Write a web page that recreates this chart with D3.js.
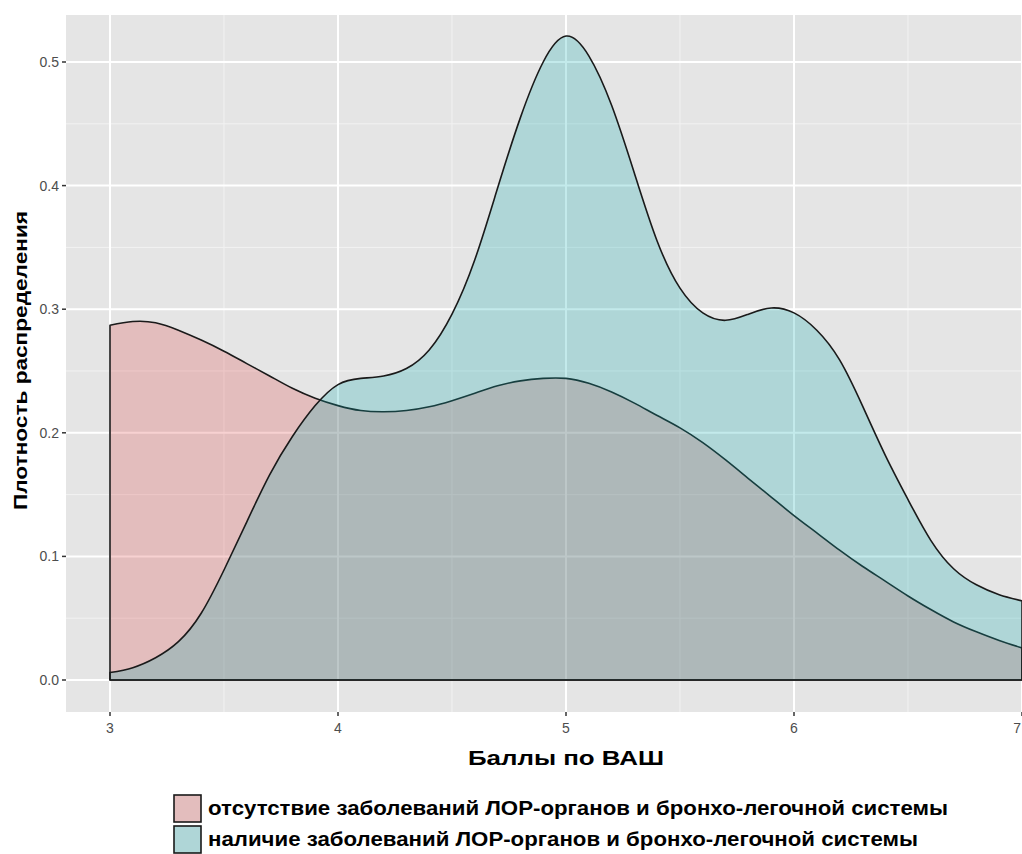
<!DOCTYPE html>
<html>
<head>
<meta charset="utf-8">
<script src="https://cdn.jsdelivr.net/npm/d3@7"></script>
<style>
  body { margin: 0; background: #fff; }
  svg text { font-family: "Liberation Sans", Arial, sans-serif; }
</style>
</head>
<body>
<div id="chart"></div>
<script>
// Density estimates
var xs = [3.0,3.1,3.2,3.3,3.4,3.5,3.6,3.7,3.8,3.9,4.0,4.1,4.2,4.3,4.4,4.5,4.6,4.7,4.8,4.9,5.0,
          5.1,5.2,5.3,5.4,5.5,5.6,5.7,5.8,5.9,6.0,6.1,6.2,6.3,6.4,6.5,6.6,6.7,6.8,6.9,7.0];
var absentDensity = [0.287,0.290,0.289,0.283,0.275,0.266,0.256,0.246,0.236,0.228,0.222,
  0.218,0.217,0.218,0.221,0.226,0.232,0.238,0.242,0.244,0.244,
  0.240,0.233,0.224,0.214,0.204,0.192,0.178,0.163,0.148,0.133,
  0.119,0.105,0.092,0.080,0.068,0.057,0.047,0.039,0.032,0.026];
var presentDensity = [0.006,0.010,0.018,0.031,0.054,0.089,0.128,0.166,0.197,0.222,0.239,
  0.244,0.246,0.252,0.267,0.296,0.340,0.398,0.455,0.500,0.521,
  0.505,0.465,0.410,0.355,0.317,0.297,0.291,0.296,0.301,0.297,
  0.283,0.259,0.222,0.182,0.146,0.113,0.090,0.077,0.069,0.064];
var xTicks = [3,4,5,6,7];
var yTicks = [0,0.1,0.2,0.3,0.4,0.5];
var groupNames = ["отсутствие заболеваний ЛОР-органов и бронхо-легочной системы",
                  "наличие заболеваний ЛОР-органов и бронхо-легочной системы"];
var groupColors = ["#e14949","#11adb1"];

var W = 1022, H = 854;
var panel = {left:66, top:15, right:1022, bottom:712};

var svg = d3.select("#chart").append("svg")
  .attr("width", W).attr("height", H);

var x = d3.scaleLinear().domain([3,7]).range([110,1022]);
var y = d3.scaleLinear().domain([0,0.5]).range([680,62]);

// panel background
svg.append("rect")
  .attr("x", panel.left).attr("y", panel.top)
  .attr("width", panel.right-panel.left).attr("height", panel.bottom-panel.top)
  .attr("fill", "#e5e5e5");

svg.append("clipPath").attr("id","clip")
  .append("rect")
  .attr("x", panel.left).attr("y", panel.top)
  .attr("width", panel.right-panel.left).attr("height", panel.bottom-panel.top);

var g = svg.append("g").attr("clip-path","url(#clip)");

// minor grid
var xMinor = [2.5,3.5,4.5,5.5,6.5];
var yMinor = [-0.05,0.05,0.15,0.25,0.35,0.45];
g.selectAll(".xminor").data(xMinor).enter().append("line")
  .attr("x1", d => x(d)).attr("x2", d => x(d))
  .attr("y1", panel.top).attr("y2", panel.bottom)
  .attr("stroke","#f2f2f2").attr("stroke-width",1);
g.selectAll(".yminor").data(yMinor).enter().append("line")
  .attr("y1", d => y(d)).attr("y2", d => y(d))
  .attr("x1", panel.left).attr("x2", panel.right)
  .attr("stroke","#f2f2f2").attr("stroke-width",1);
// major grid
g.selectAll(".xmajor").data(xTicks).enter().append("line")
  .attr("x1", d => x(d)).attr("x2", d => x(d))
  .attr("y1", panel.top).attr("y2", panel.bottom)
  .attr("stroke","#ffffff").attr("stroke-width",2);
g.selectAll(".ymajor").data(yTicks).enter().append("line")
  .attr("y1", d => y(d)).attr("y2", d => y(d))
  .attr("x1", panel.left).attr("x2", panel.right)
  .attr("stroke","#ffffff").attr("stroke-width",2);

// density areas: closed polygons with outline
function densityPath(vals) {
  var pts = xs.map((v,i) => [x(v), y(vals[i])]);
  var line = d3.line().curve(d3.curveNatural);
  var top = line(pts);
  return top + "L" + x(xs[xs.length-1]) + "," + y(0) + "L" + x(xs[0]) + "," + y(0) + "Z";
}

[absentDensity, presentDensity].forEach(function(vals, i) {
  g.append("path")
    .attr("d", densityPath(vals))
    .attr("fill", groupColors[i])
    .attr("fill-opacity", 0.25)
    .attr("stroke", "#1a1a1a")
    .attr("stroke-width", 1.6)
    .attr("stroke-linejoin","round");
});

// axes ticks and labels
var axisCol = "#4d4d4d";
svg.selectAll(".ytick").data(yTicks).enter().append("line")
  .attr("x1", panel.left-4).attr("x2", panel.left)
  .attr("y1", d => y(d)).attr("y2", d => y(d))
  .attr("stroke","#333").attr("stroke-width",1.5);
svg.selectAll(".ylab").data(yTicks).enter().append("text")
  .attr("x", panel.left-7).attr("y", d => y(d)).attr("dy","0.36em")
  .attr("text-anchor","end").attr("font-size",14).attr("fill",axisCol)
  .text(d => d3.format(".1f")(d));
svg.selectAll(".xtick").data(xTicks).enter().append("line")
  .attr("x1", d => x(d)).attr("x2", d => x(d))
  .attr("y1", panel.bottom).attr("y2", panel.bottom+4)
  .attr("stroke","#333").attr("stroke-width",1.5);
svg.selectAll(".xlab").data(xTicks).enter().append("text")
  .attr("x", d => d === 7 ? x(d) - 1 : x(d)).attr("y", panel.bottom+21)
  .attr("text-anchor", d => d === 7 ? "end" : "middle")
  .attr("font-size",14).attr("fill",axisCol)
  .text(d => d);

// axis titles
svg.append("text")
  .attr("x", 468).attr("y", 765)
  .attr("font-size",21).attr("font-weight","bold")
  .attr("textLength",196).attr("lengthAdjust","spacingAndGlyphs")
  .attr("fill","#000").text("Баллы по ВАШ");
svg.append("text")
  .attr("transform","translate(27,510) rotate(-90)")
  .attr("font-size",19).attr("font-weight","bold")
  .attr("textLength",299).attr("lengthAdjust","spacingAndGlyphs")
  .attr("fill","#000").text("Плотность распределения");

// legend
var legendWidths = [740, 710];
var legend = svg.append("g");
groupNames.forEach(function(name, i) {
  var ly = 795 + i*31;
  legend.append("rect")
    .attr("x", 174).attr("y", ly).attr("width", 27).attr("height", 27)
    .attr("fill", "#e5e5e5").attr("stroke","none");
  legend.append("rect")
    .attr("x", 174).attr("y", ly).attr("width", 27).attr("height", 27)
    .attr("fill", groupColors[i]).attr("fill-opacity",0.25)
    .attr("stroke","#1a1a1a").attr("stroke-width",1.6);
  legend.append("text")
    .attr("x", 208).attr("y", ly+20)
    .attr("font-size",20).attr("font-weight","bold").attr("fill","#000")
    .attr("textLength", legendWidths[i]).attr("lengthAdjust","spacingAndGlyphs")
    .text(name);
});
</script>
</body>
</html>
